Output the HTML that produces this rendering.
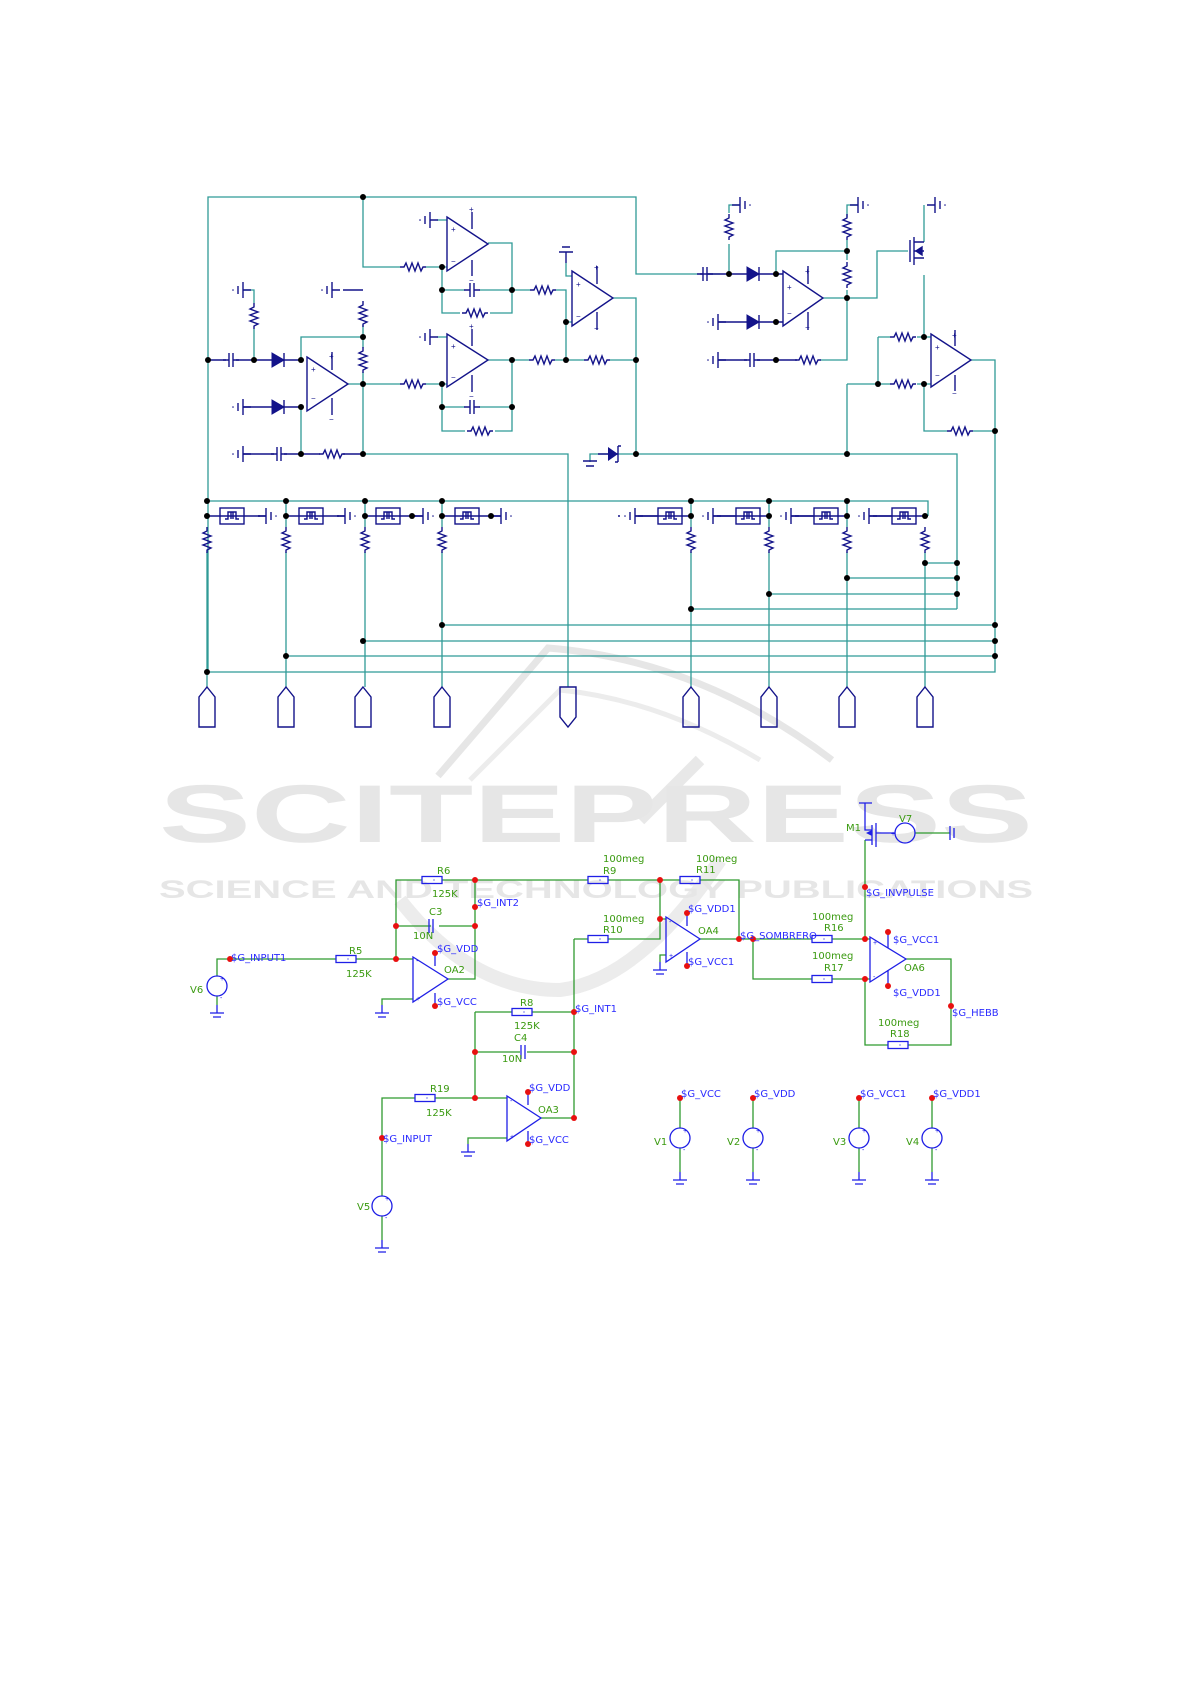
<!DOCTYPE html>
<html><head><meta charset="utf-8"><style>
html,body{margin:0;padding:0;background:#fff;}
svg{display:block;}
.w{stroke:#2f9a96;stroke-width:1.3;fill:none;}
.c{stroke:#13138a;stroke-width:1.4;fill:none;}
.g{stroke:#2f9a2f;stroke-width:1.3;fill:none;}
.b{stroke:#1f1fe6;stroke-width:1.3;fill:none;}
.bl{fill:#2b2bff;font-family:"DejaVu Sans","Liberation Sans",sans-serif;font-size:10px;}
.gr{fill:#3a9a10;font-family:"DejaVu Sans","Liberation Sans",sans-serif;font-size:10px;}
</style></head><body>
<svg width="1191" height="1684" viewBox="0 0 1191 1684" xmlns="http://www.w3.org/2000/svg">
<defs>
<g id="rh"><path d="M-13,0 L-9,0 L-7,-4 L-4,4 L-1,-4 L2,4 L5,-4 L8,4 L10,0 L13,0" class="c"/></g>
<g id="rv"><path d="M0,-13 L0,-9 L-4,-7 L4,-4 L-4,-1 L4,2 L-4,5 L4,8 L0,10 L0,13" class="c"/></g>
<g id="cap"><path d="M-8,0 H-2 M2,0 H8 M-2,-7 V7 M2,-7 V7" class="c"/></g>
<g id="gl"><path d="M0,-8 V8 M-5,-4 V4 M0,0 H8" class="c"/><circle cx="-10" cy="0" r="0.8" fill="#13138a"/></g>
<g id="gr"><path d="M0,-8 V8 M5,-4 V4 M0,0 H-8" class="c"/><circle cx="10" cy="0" r="0.8" fill="#13138a"/></g>
<g id="dio"><path d="M-6,-7 L6,0 L-6,7 Z" fill="#13138a" stroke="#13138a"/><path d="M6,-7 V7" class="c" stroke-width="2"/></g>
<g id="pul"><rect x="-12" y="-8" width="24" height="16" class="c" stroke-width="2"/><path d="M-7,3 H-4 V-4 H4 V3 H7 M-1,-4 V3 M1,-4 V3" class="c" stroke-width="1"/></g>
<g id="up"><path d="M0,0 L8,10 V40 H-8 V10 Z" class="c"/></g>
<g id="dn"><path d="M-8,0 H8 V30 L0,40 L-8,30 Z" class="c"/></g>
<g id="bres"><rect x="-10" y="-3.5" width="20" height="7" class="b"/><circle cx="2" cy="0" r="0.6" fill="#1f1fe6"/></g>
<g id="bgnd"><path d="M0,0 V8 M-7,8 H7 M-4,12 H4" class="b"/></g>
<g id="vs"><circle cx="0" cy="0" r="10" class="b"/></g>
<circle id="d" r="3" fill="#000"/>
<circle id="rd" r="3" fill="#e81010"/>
</defs>

<!-- watermark -->
<g>
<path d="M438,776 L548,648 Q700,660 832,760" stroke="#e6e6e6" stroke-width="7" fill="none"/>
<path d="M470,780 L560,690 Q660,700 760,760" stroke="#ececec" stroke-width="5" fill="none"/>
<path d="M400,900 Q470,990 560,990 Q640,980 720,860" stroke="#ececec" stroke-width="14" fill="none"/>
<path d="M640,820 L700,760" stroke="#e8e8e8" stroke-width="12" fill="none"/>
<text x="159" y="842" textLength="874" lengthAdjust="spacingAndGlyphs" font-family="Liberation Sans, sans-serif" font-weight="bold" font-size="82" fill="#e6e6e6">SCITEPRESS</text>
<text x="159" y="898" textLength="874" lengthAdjust="spacingAndGlyphs" font-family="Liberation Sans, sans-serif" font-weight="bold" font-size="25" fill="#e6e6e6">SCIENCE AND TECHNOLOGY PUBLICATIONS</text>
</g>

<!-- ===== TOP SCHEMATIC wires ===== -->
<g class="w">
<path d="M208,672 V197 H636 V274 H700"/>
<path d="M363,197 V267 H400"/>
<path d="M426,267 H447"/>
<path d="M488,243 H512 V313 H490 M460,313 H442 V267"/>
<path d="M442,290 H465 M479,290 H512"/>
<path d="M512,290 H530 M556,290 H566 V322 H572 M566,322 V360"/>
<path d="M566,263 V276 H572"/>
<path d="M613,298 H636 V454"/>
<path d="M512,360 H529 M555,360 H584 M610,360 H636"/>
<path d="M488,360 H512 V431 H495 M465,431 H442 V384"/>
<path d="M442,407 H465 M479,407 H512"/>
<path d="M363,384 H400 M426,384 H447"/>
<path d="M437,337 H447 M437,220 H447"/>
<path d="M301,360 V337 H363 M301,407 V454 M348,384 H363 M363,325 V337 M363,348 V337 M363,372 V384 V454"/>
<path d="M254,360 V329 M254,303 V290 H243"/>
<path d="M363,454 H568 V687"/>
<path d="M590,462 V454 H636 M636,454 H957 V609"/>
<path d="M708,274 H720 M729,274 V244 M729,213 V205 H740"/>
<path d="M823,298 H877 V251 H908"/>
<path d="M776,274 V251 H847 M847,240 V251 V260 M847,290 V298 M847,217 V205 H858"/>
<path d="M820,360 H847 V298"/>
<path d="M924,275 V337 H931 M878,337 H890 M917,337 H924 M878,337 V384 M847,384 H890 M917,384 H931 M847,384 V454"/>
<path d="M924,384 V431 H947 M973,431 H995 M971,360 H995 V672 H208"/>
<path d="M924,205 V242"/>
<path d="M207,501 H928 V516"/>
<path d="M286,501 V527 M286,552 V687 M365,501 V527 M365,552 V687 M442,501 V527 M442,552 V687 M207,552 V687"/>
<path d="M691,501 V527 M691,552 V687 M769,501 V527 M769,552 V687 M847,501 V527 M847,552 V687 M925,552 V687"/>
<path d="M925,563 H957 M847,578 H957 M769,594 H957 M691,609 H957"/>
<path d="M442,625 H995 M363,641 H995 M286,656 H995"/>
</g>

<g class="c">
<path d="M447,217 L488,244 L447,271 Z"/><path d="M472,212 V229 M472,260 V276"/>
<path d="M572,271 L613,298 L572,326 Z"/><path d="M597,266 V284 M597,312 V330"/>
<path d="M447,334 L488,360 L447,387 Z"/><path d="M472,329 V346 M472,375 V392"/>
<path d="M307,357 L348,384 L307,411 Z"/><path d="M332,352 V370 M332,398 V415"/>
<path d="M783,271 L823,298 L783,326 Z"/><path d="M808,266 V284 M808,312 V330"/>
<path d="M931,334 L971,360 L931,387 Z"/><path d="M955,330 V346 M955,375 V391"/>
<path d="M208,360 H226 M236,360 H301 M243,407 H301 M243,454 H274 M284,454 H301 M301,454 H320 M343,454 H363"/>
<path d="M718,322 H776 H783 M718,360 H747 M757,360 H797 M700,274 H776 H783"/>
<path d="M566,263 V252 M559,252 H573 M562,247 H570 M598,454 H618"/>
<path d="M583,461 H597 M586,466 H594"/>
<path d="M910,240 V262 M914,237 V265 M914,242 H924 M914,258 H924 M914,251 H924"/>
<path d="M916,251 L922,247 L922,255 Z" fill="#13138a"/>
</g>
<g font-family="Liberation Sans, sans-serif" font-size="8" fill="#13138a">
<text x="451" y="232">+</text><text x="451" y="264">−</text><text x="469" y="212">+</text><text x="469" y="283">−</text>
<text x="576" y="287">+</text><text x="576" y="319">−</text><text x="594" y="270">+</text><text x="594" y="331">−</text>
<text x="451" y="349">+</text><text x="451" y="380">−</text><text x="469" y="329">+</text><text x="469" y="399">−</text>
<text x="311" y="372">+</text><text x="311" y="401">−</text><text x="329" y="359">+</text><text x="329" y="422">−</text>
<text x="787" y="290">+</text><text x="787" y="316">−</text><text x="805" y="274">+</text><text x="805" y="330">−</text>
<text x="935" y="350">+</text><text x="935" y="378">−</text><text x="952" y="338">+</text><text x="952" y="396">−</text>
</g>
<g><path d="M608,447 L618,454 L608,461 Z" fill="#13138a"/><path d="M618,446 V462 M618,446 H621 M618,462 H615" class="c" stroke-width="2"/></g>
<use href="#rh" x="413" y="267"/><use href="#rh" x="475" y="313"/><use href="#rh" x="543" y="290"/>
<use href="#rh" x="542" y="360"/><use href="#rh" x="597" y="360"/><use href="#rh" x="480" y="431"/>
<use href="#rh" x="413" y="384"/><use href="#rh" x="332" y="454"/>
<use href="#rv" x="363" y="314"/><use href="#rv" x="363" y="360"/><use href="#rv" x="254" y="316"/>
<use href="#rv" x="729" y="227"/><use href="#rv" x="847" y="227"/><use href="#rv" x="847" y="275"/>
<use href="#rh" x="808" y="360"/><use href="#rh" x="903" y="337"/><use href="#rh" x="903" y="384"/><use href="#rh" x="960" y="431"/>
<use href="#rv" x="207" y="540"/><use href="#rv" x="286" y="540"/><use href="#rv" x="365" y="540"/><use href="#rv" x="442" y="540"/>
<use href="#rv" x="691" y="540"/><use href="#rv" x="769" y="540"/><use href="#rv" x="847" y="540"/><use href="#rv" x="925" y="540"/>
<use href="#cap" x="231" y="360"/><use href="#cap" x="472" y="290"/><use href="#cap" x="472" y="407"/>
<use href="#cap" x="279" y="454"/><use href="#cap" x="705" y="274"/><use href="#cap" x="752" y="360"/>
<use href="#dio" x="278" y="360"/><use href="#dio" x="278" y="407"/><use href="#dio" x="753" y="274"/><use href="#dio" x="753" y="322"/>
<use href="#gl" x="430" y="220"/><use href="#gl" x="430" y="337"/><use href="#gl" x="243" y="290"/><use href="#gl" x="332" y="290"/>
<use href="#gl" x="243" y="407"/><use href="#gl" x="243" y="454"/><use href="#gl" x="718" y="322"/><use href="#gl" x="718" y="360"/>
<use href="#gr" x="740" y="205"/><use href="#gr" x="858" y="205"/><use href="#gr" x="935" y="205"/>
<path d="M363,290 H343" class="c"/>
<g class="c">
<path d="M207,516 H277 M286,516 H356 M365,516 H435 M442,516 H512"/>
<path d="M618,516 H691 M697,516 H769 M775,516 H847 M853,516 H928"/>
</g>
<use href="#pul" x="232" y="516"/><use href="#pul" x="311" y="516"/><use href="#pul" x="388" y="516"/><use href="#pul" x="467" y="516"/>
<use href="#pul" x="670" y="516"/><use href="#pul" x="748" y="516"/><use href="#pul" x="826" y="516"/><use href="#pul" x="904" y="516"/>
<rect x="260" y="505" width="22" height="22" fill="#fff"/><rect x="339" y="505" width="22" height="22" fill="#fff"/>
<rect x="416" y="505" width="20" height="22" fill="#fff"/><rect x="494" y="505" width="22" height="22" fill="#fff"/>
<rect x="620" y="505" width="18" height="22" fill="#fff"/><rect x="697" y="505" width="20" height="22" fill="#fff"/>
<rect x="775" y="505" width="20" height="22" fill="#fff"/><rect x="853" y="505" width="20" height="22" fill="#fff"/>
<use href="#gr" x="266" y="516"/><use href="#gr" x="345" y="516"/><use href="#gr" x="423" y="516"/><use href="#gr" x="501" y="516"/>
<use href="#gl" x="635" y="516"/><use href="#gl" x="713" y="516"/><use href="#gl" x="791" y="516"/><use href="#gl" x="869" y="516"/>
<path d="M258,516 H266 M337,516 H345 M412,516 H423 M491,516 H501 M635,516 H658 M713,516 H736 M791,516 H814 M869,516 H892" class="c"/>
<use href="#up" x="207" y="687"/><use href="#up" x="286" y="687"/><use href="#up" x="363" y="687"/><use href="#up" x="442" y="687"/>
<use href="#dn" x="568" y="687"/>
<use href="#up" x="691" y="687"/><use href="#up" x="769" y="687"/><use href="#up" x="847" y="687"/><use href="#up" x="925" y="687"/>
<g>
<use href="#d" x="363" y="197"/><use href="#d" x="442" y="267"/><use href="#d" x="442" y="290"/><use href="#d" x="512" y="290"/>
<use href="#d" x="566" y="322"/><use href="#d" x="566" y="360"/><use href="#d" x="512" y="360"/><use href="#d" x="442" y="384"/>
<use href="#d" x="442" y="407"/><use href="#d" x="512" y="407"/><use href="#d" x="363" y="337"/><use href="#d" x="363" y="384"/>
<use href="#d" x="301" y="360"/><use href="#d" x="301" y="407"/><use href="#d" x="254" y="360"/><use href="#d" x="208" y="360"/>
<use href="#d" x="301" y="454"/><use href="#d" x="363" y="454"/><use href="#d" x="636" y="360"/><use href="#d" x="636" y="454"/>
<use href="#d" x="729" y="274"/><use href="#d" x="776" y="274"/><use href="#d" x="776" y="322"/><use href="#d" x="776" y="360"/>
<use href="#d" x="847" y="251"/><use href="#d" x="847" y="298"/><use href="#d" x="924" y="337"/><use href="#d" x="878" y="384"/>
<use href="#d" x="924" y="384"/><use href="#d" x="847" y="454"/><use href="#d" x="995" y="431"/>
<use href="#d" x="207" y="501"/><use href="#d" x="286" y="501"/><use href="#d" x="365" y="501"/><use href="#d" x="442" y="501"/>
<use href="#d" x="691" y="501"/><use href="#d" x="769" y="501"/><use href="#d" x="847" y="501"/>
<use href="#d" x="207" y="516"/><use href="#d" x="286" y="516"/><use href="#d" x="365" y="516"/><use href="#d" x="442" y="516"/>
<use href="#d" x="412" y="516"/><use href="#d" x="491" y="516"/>
<use href="#d" x="691" y="516"/><use href="#d" x="769" y="516"/><use href="#d" x="847" y="516"/><use href="#d" x="925" y="516"/>
<use href="#d" x="925" y="563"/><use href="#d" x="957" y="563"/><use href="#d" x="847" y="578"/><use href="#d" x="957" y="578"/>
<use href="#d" x="769" y="594"/><use href="#d" x="957" y="594"/><use href="#d" x="691" y="609"/>
<use href="#d" x="442" y="625"/><use href="#d" x="995" y="625"/><use href="#d" x="363" y="641"/><use href="#d" x="995" y="641"/>
<use href="#d" x="286" y="656"/><use href="#d" x="995" y="656"/><use href="#d" x="207" y="672"/>
</g>

<!-- ===== BOTTOM SCHEMATIC ===== -->
<g class="g">
<path d="M217,976 V959 H336 M356,959 H413"/>
<path d="M396,959 V880 H422 M442,880 H588 M608,880 H680 M700,880 H739 V939"/>
<path d="M396,926 H431 M439,926 H475"/>
<path d="M475,880 V979 H448"/>
<path d="M413,999 H382 V1005"/>
<path d="M660,880 V919 H666"/>
<path d="M666,955 H660 V962"/>
<path d="M700,939 H812 M832,939 H870"/>
<path d="M753,939 V979 H812 M832,979 H870"/>
<path d="M906,959 H951 V1045 H908 M888,1045 H865 V979"/>
<path d="M865,939 V840"/>
<path d="M574,939 H588 M608,939 H660 V919"/>
<path d="M574,939 V1118 H541"/>
<path d="M475,1012 H512 M532,1012 H574"/>
<path d="M475,1012 V1098"/>
<path d="M475,1052 H520 M527,1052 H574"/>
<path d="M382,1196 V1098 H415 M435,1098 H507"/>
<path d="M507,1138 H468 V1144"/>
<path d="M382,1216 V1240"/>
<path d="M680,1098 V1128 M680,1148 V1172 M753,1098 V1128 M753,1148 V1172 M859,1098 V1128 M859,1148 V1172 M932,1098 V1128 M932,1148 V1172"/>
<path d="M217,996 V1005"/>
<path d="M915,833 H950"/>
</g>
<g class="b">
<path d="M413,957 L448,979 L413,1002 Z"/><path d="M435,953 V966 M435,1006 V993"/>
<path d="M666,917 L700,939 L666,962 Z"/><path d="M687,913 V926 M687,966 V952"/>
<path d="M870,937 L906,959 L870,982 Z"/><path d="M888,930 V948 M888,988 V970"/>
<path d="M507,1096 L541,1118 L507,1141 Z"/><path d="M528,1092 V1105 M528,1144 V1131"/>
<path d="M429,919 V933 M433,919 V933"/><path d="M521,1045 V1059 M525,1045 V1059"/>
<path d="M859,803 H872 M865,803 V830 H872 M865,840 H872 M872,825 V845 M876,823 V847 M876,833 H895"/>
<path d="M950,826 V840 M954,828 V838"/>
</g>
<path d="M866,833 L872,830 L872,836 Z" fill="#1f1fe6"/>
<use href="#bres" x="346" y="959"/><use href="#bres" x="432" y="880"/><use href="#bres" x="598" y="880"/><use href="#bres" x="690" y="880"/>
<use href="#bres" x="598" y="939"/><use href="#bres" x="822" y="939"/><use href="#bres" x="822" y="979"/><use href="#bres" x="898" y="1045"/>
<use href="#bres" x="522" y="1012"/><use href="#bres" x="425" y="1098"/>
<use href="#vs" x="217" y="986"/><use href="#vs" x="382" y="1206"/><use href="#vs" x="905" y="833"/>
<use href="#vs" x="680" y="1138"/><use href="#vs" x="753" y="1138"/><use href="#vs" x="859" y="1138"/><use href="#vs" x="932" y="1138"/>
<use href="#bgnd" x="217" y="1005"/><use href="#bgnd" x="382" y="1005"/><use href="#bgnd" x="660" y="962"/><use href="#bgnd" x="468" y="1144"/>
<use href="#bgnd" x="382" y="1240"/><use href="#bgnd" x="680" y="1172"/><use href="#bgnd" x="753" y="1172"/><use href="#bgnd" x="859" y="1172"/><use href="#bgnd" x="932" y="1172"/>
<g>
<use href="#rd" x="230" y="959"/><use href="#rd" x="396" y="959"/><use href="#rd" x="396" y="926"/><use href="#rd" x="475" y="926"/>
<use href="#rd" x="475" y="880"/><use href="#rd" x="475" y="907"/><use href="#rd" x="435" y="953"/><use href="#rd" x="435" y="1006"/>
<use href="#rd" x="660" y="880"/><use href="#rd" x="660" y="919"/><use href="#rd" x="687" y="913"/><use href="#rd" x="687" y="966"/>
<use href="#rd" x="739" y="939"/><use href="#rd" x="753" y="939"/><use href="#rd" x="865" y="939"/><use href="#rd" x="865" y="979"/>
<use href="#rd" x="888" y="932"/><use href="#rd" x="888" y="986"/><use href="#rd" x="951" y="1006"/><use href="#rd" x="865" y="887"/>
<use href="#rd" x="574" y="1012"/><use href="#rd" x="574" y="1052"/><use href="#rd" x="475" y="1052"/><use href="#rd" x="475" y="1098"/>
<use href="#rd" x="574" y="1118"/><use href="#rd" x="528" y="1092"/><use href="#rd" x="528" y="1144"/><use href="#rd" x="382" y="1138"/>
<use href="#rd" x="680" y="1098"/><use href="#rd" x="753" y="1098"/><use href="#rd" x="859" y="1098"/><use href="#rd" x="932" y="1098"/>
</g>
<g class="bl">
<text x="231" y="961">$G_INPUT1</text><text x="477" y="906">$G_INT2</text>
<text x="437" y="952">$G_VDD</text><text x="437" y="1005">$G_VCC</text>
<text x="688" y="912">$G_VDD1</text><text x="688" y="965">$G_VCC1</text>
<text x="575" y="1012">$G_INT1</text><text x="529" y="1091">$G_VDD</text><text x="529" y="1143">$G_VCC</text>
<text x="383" y="1142">$G_INPUT</text><text x="740" y="939">$G_SOMBRERO</text>
<text x="893" y="943">$G_VCC1</text><text x="893" y="996">$G_VDD1</text><text x="952" y="1016">$G_HEBB</text>
<text x="866" y="896">$G_INVPULSE</text>
<text x="681" y="1097">$G_VCC</text><text x="754" y="1097">$G_VDD</text><text x="860" y="1097">$G_VCC1</text><text x="933" y="1097">$G_VDD1</text>
</g>
<g class="gr">
<text x="349" y="954">R5</text><text x="346" y="977">125K</text><text x="190" y="993">V6</text>
<text x="437" y="874">R6</text><text x="432" y="897">125K</text><text x="429" y="915">C3</text><text x="413" y="939">10N</text>
<text x="444" y="973">OA2</text>
<text x="603" y="862">100meg</text><text x="603" y="874">R9</text>
<text x="696" y="862">100meg</text><text x="696" y="873">R11</text>
<text x="603" y="922">100meg</text><text x="603" y="933">R10</text>
<text x="698" y="934">OA4</text>
<text x="520" y="1006">R8</text><text x="514" y="1029">125K</text><text x="514" y="1041">C4</text><text x="502" y="1062">10N</text>
<text x="430" y="1092">R19</text><text x="426" y="1116">125K</text><text x="538" y="1113">OA3</text>
<text x="357" y="1210">V5</text>
<text x="812" y="920">100meg</text><text x="824" y="931">R16</text>
<text x="812" y="959">100meg</text><text x="824" y="971">R17</text>
<text x="904" y="971">OA6</text>
<text x="878" y="1026">100meg</text><text x="890" y="1037">R18</text>
<text x="846" y="831">M1</text><text x="899" y="822">V7</text>
<text x="654" y="1145">V1</text><text x="727" y="1145">V2</text><text x="833" y="1145">V3</text><text x="906" y="1145">V4</text>
</g>
<g font-family="Liberation Sans, sans-serif" font-size="7" fill="#1f1fe6">
<text x="220" y="981">+</text><text x="220" y="1000">-</text><text x="385" y="1201">+</text><text x="385" y="1220">-</text>
<text x="683" y="1133">+</text><text x="683" y="1152">-</text><text x="756" y="1133">+</text><text x="756" y="1152">-</text>
<text x="862" y="1133">+</text><text x="862" y="1152">-</text><text x="935" y="1133">+</text><text x="935" y="1152">-</text>
<text x="416" y="963">-</text><text x="416" y="1001">+</text><text x="669" y="924">-</text><text x="669" y="958">+</text>
<text x="873" y="945">+</text><text x="873" y="979">-</text><text x="510" y="1103">-</text><text x="510" y="1139">+</text>
<text x="891" y="836">+</text>
</g>
</svg>
</body></html>
